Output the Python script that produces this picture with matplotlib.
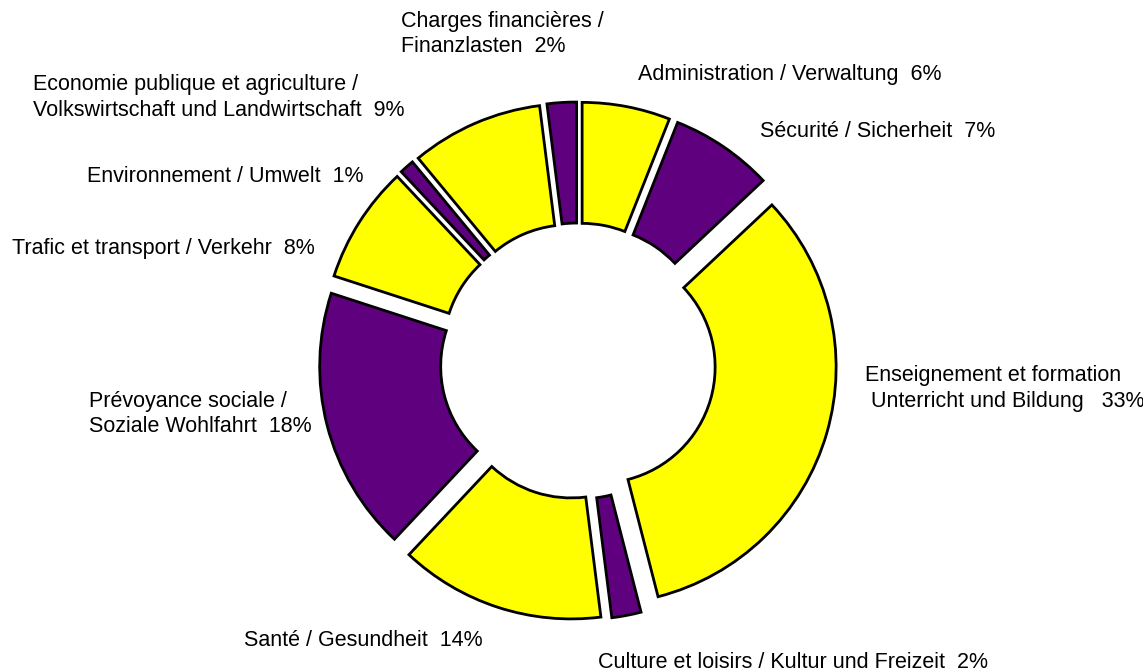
import matplotlib
matplotlib.use("Agg")
import matplotlib.pyplot as plt

# ---- data (clockwise from 12 o'clock) ----
categories = [
    "Administration / Verwaltung",
    "Sécurité / Sicherheit",
    "Enseignement et formation / Unterricht und Bildung",
    "Culture et loisirs / Kultur und Freizeit",
    "Santé / Gesundheit",
    "Prévoyance sociale / Soziale Wohlfahrt",
    "Trafic et transport / Verkehr",
    "Environnement / Umwelt",
    "Economie publique et agriculture / Volkswirtschaft und Landwirtschaft",
    "Charges financières / Finanzlasten",
]
values = [6, 7, 33, 2, 14, 18, 8, 1, 9, 2]

# label lines as shown on the chart ({} is replaced by the percentage)
label_lines = [
    ["Administration / Verwaltung  {}%"],
    ["Sécurité / Sicherheit  {}%"],
    ["Enseignement et formation", " Unterricht und Bildung   {}%"],
    ["Culture et loisirs / Kultur und Freizeit  {}%"],
    ["Santé / Gesundheit  {}%"],
    ["Prévoyance sociale /", "Soziale Wohlfahrt  {}%"],
    ["Trafic et transport / Verkehr  {}%"],
    ["Environnement / Umwelt  {}%"],
    ["Economie publique et agriculture /", "Volkswirtschaft und Landwirtschaft  {}%"],
    ["Charges financières /", "Finanzlasten  {}%"],
]

YELLOW = "#FFFF00"
PURPLE = "#5F007F"
colors = [YELLOW if i % 2 == 0 else PURPLE for i in range(len(values))]

# ---- layout (pixel space, y measured from top) ----
W, H = 1143, 671
CX, CY = 578, 361
R_OUT = 237
RING = 121
EXPLODE = 22

# label anchor: (left x, first baseline y) in pixels from top
label_pos = [
    (638, 80),
    (760, 137),
    (865, 381),
    (598, 668),
    (244, 646),
    (89, 407),
    (12, 254),
    (87, 182.5),
    (33, 90),
    (401, 27),
]
LINE_STEP = 25.5

plt.rcParams["font.family"] = ["Liberation Sans", "DejaVu Sans"]

fig = plt.figure(figsize=(W / 100, H / 100), dpi=100)
ax = fig.add_axes([0, 0, 1, 1])

ax.pie(
    values,
    colors=colors,
    startangle=90,
    counterclock=False,
    radius=R_OUT,
    center=(CX, H - CY),
    explode=[EXPLODE] * len(values),
    wedgeprops=dict(width=RING, edgecolor="black", linewidth=2.0),
)
ax.set_xlim(0, W)
ax.set_ylim(0, H)
ax.set_aspect("auto")
ax.axis("off")

for lines, v, (lx, ly) in zip(label_lines, values, label_pos):
    for k, line in enumerate(lines):
        ax.text(lx, H - (ly + k * LINE_STEP), line.format(v),
                fontsize=15.5, color="black", ha="left", va="baseline")

fig.savefig("out.png", dpi=100, facecolor="white")
